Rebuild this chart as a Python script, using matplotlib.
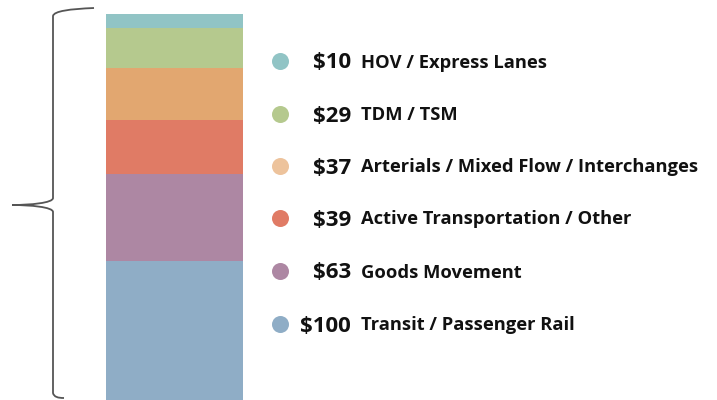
import matplotlib
matplotlib.use('Agg')
import matplotlib.pyplot as plt
from matplotlib.path import Path
from matplotlib.patches import PathPatch

# bottom to top of the stack
amounts = [100, 63, 39, 37, 29, 10]
labels = ['Transit / Passenger Rail', 'Goods Movement', 'Active Transportation / Other',
          'Arterials / Mixed Flow / Interchanges', 'TDM / TSM', 'HOV / Express Lanes']
bar_colors = ['#8FADC6', '#AD87A3', '#E07B65', '#E2A770', '#B5C98E', '#91C4C5']
dot_colors = ['#8FADC6', '#AD87A3', '#E07B65', '#EDC39C', '#B5C98E', '#91C4C5']

plt.rcParams['font.family'] = ['Open Sans', 'DejaVu Sans']

W, H = 717, 400
fig = plt.figure(figsize=(W / 100, H / 100), dpi=100)

# stacked bar
total = sum(amounts)
bx = fig.add_axes([106 / W, 0, 137 / W, 386 / H])
bottom = 0
for v, c in zip(amounts, bar_colors):
    bx.bar(0, v, bottom=bottom, width=1, color=c, linewidth=0)
    bottom += v
bx.set_xlim(-0.5, 0.5)
bx.set_ylim(0, total)
bx.axis('off')

# overlay in pixel coords
ax = fig.add_axes([0, 0, 1, 1])
ax.set_xlim(0, W)
ax.set_ylim(H, 0)
ax.axis('off')

# curly brace
verts = [(94, 8), (70, 9), (54, 11), (53, 16),
         (53, 198),
         (53, 203), (30, 205), (12, 205),
         (30, 205), (53, 207), (53, 212),
         (53, 393),
         (54, 397), (58, 398), (64, 398)]
codes = [Path.MOVETO, Path.CURVE4, Path.CURVE4, Path.CURVE4,
         Path.LINETO,
         Path.CURVE4, Path.CURVE4, Path.CURVE4,
         Path.CURVE4, Path.CURVE4, Path.CURVE4,
         Path.LINETO,
         Path.CURVE4, Path.CURVE4, Path.CURVE4]
ax.add_patch(PathPatch(Path(verts, codes), fill=False, edgecolor='#555555', lw=1.3))

# legend, top row first
ys = [61, 114, 166, 218, 271, 324]
for i, y in enumerate(ys):
    k = len(amounts) - 1 - i
    ax.scatter(280, y, s=150, color=dot_colors[k], linewidths=0)
    ax.text(351, y + 2, f'${amounts[k]}', ha='right', va='center',
            fontsize=16, fontweight='bold', color='#111111')
    ax.text(361, y + 1.5, labels[k], ha='left', va='center',
            fontsize=13.2, fontweight='bold', color='#111111')

fig.savefig('out.png', dpi=100)
